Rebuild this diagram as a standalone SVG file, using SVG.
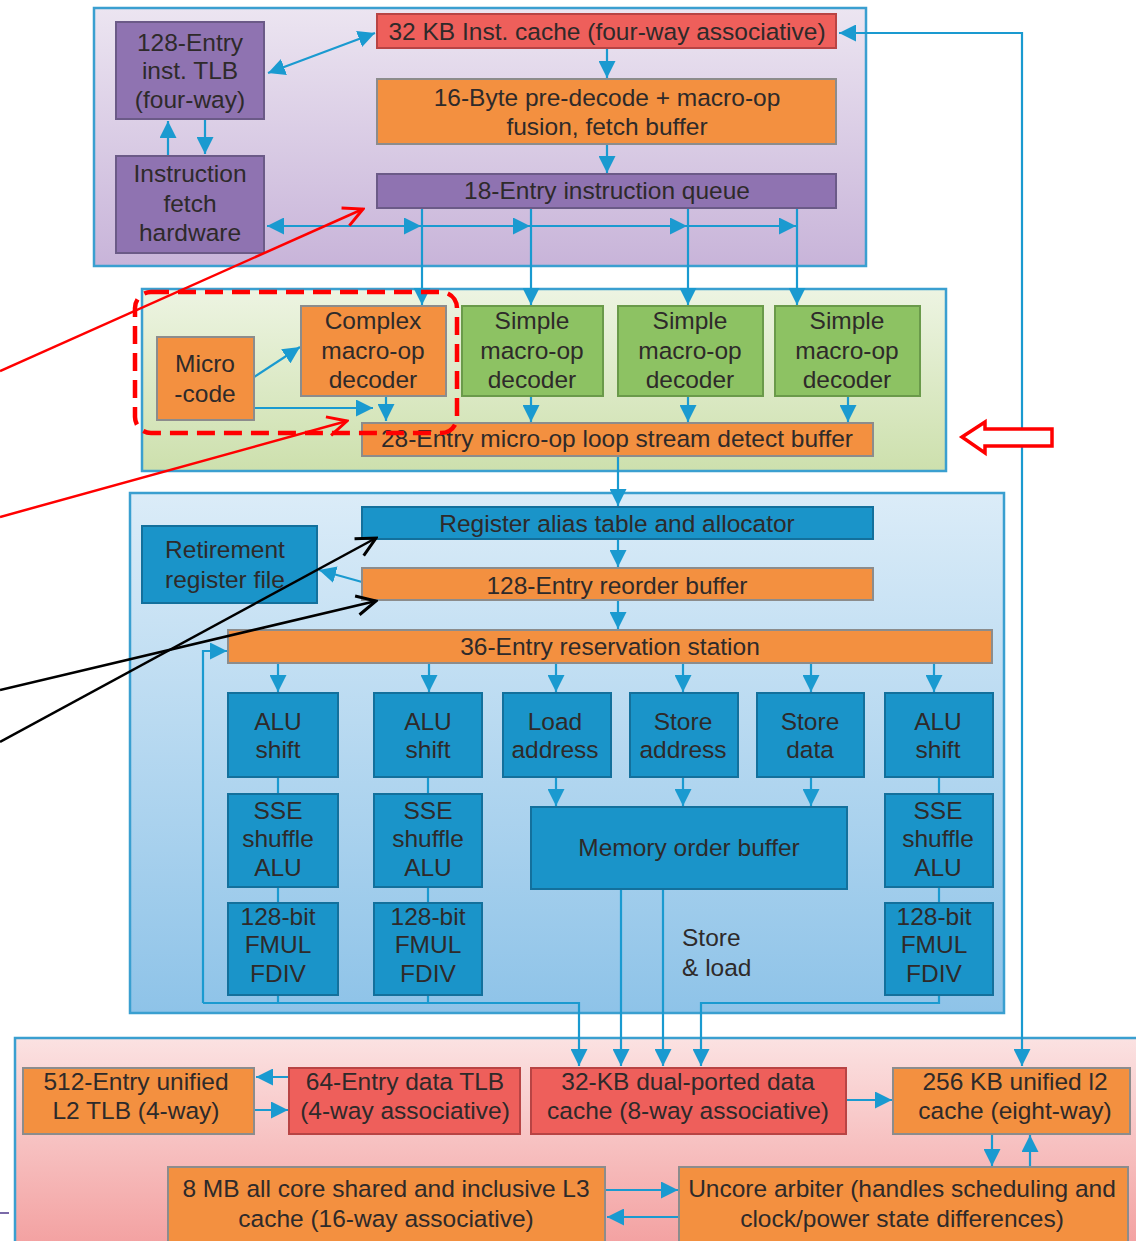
<svg xmlns="http://www.w3.org/2000/svg" width="1136" height="1241" viewBox="0 0 1136 1241">
<defs>
<linearGradient id="gPurple" x1="0" y1="0" x2="0" y2="1"><stop offset="0" stop-color="#ece5f1"/><stop offset="1" stop-color="#c8b4d9"/></linearGradient>
<linearGradient id="gGreen" x1="0" y1="0" x2="0" y2="1"><stop offset="0" stop-color="#edf4e2"/><stop offset="1" stop-color="#cde0ad"/></linearGradient>
<linearGradient id="gBlue" x1="0" y1="0" x2="0" y2="1"><stop offset="0" stop-color="#dbecf8"/><stop offset="1" stop-color="#8ec3e8"/></linearGradient>
<linearGradient id="gPink" x1="0" y1="0" x2="0" y2="1"><stop offset="0" stop-color="#fbe2e2"/><stop offset="1" stop-color="#f3a0a0"/></linearGradient>
<marker id="a" viewBox="0 0 14 14" refX="14" refY="7" markerWidth="17" markerHeight="17" orient="auto-start-reverse" markerUnits="userSpaceOnUse"><path d="M0,0 L14,7 L0,14 z" fill="#1a9ad0"/></marker>
<marker id="rv" viewBox="0 0 20 20" refX="18" refY="10" markerWidth="24" markerHeight="24" orient="auto" markerUnits="userSpaceOnUse"><path d="M2,2 L18,10 L2,18" fill="none" stroke="#ff0000" stroke-width="2.5"/></marker>
<marker id="kv" viewBox="0 0 20 20" refX="18" refY="10" markerWidth="24" markerHeight="24" orient="auto" markerUnits="userSpaceOnUse"><path d="M2,2 L18,10 L2,18" fill="none" stroke="#000" stroke-width="2.5"/></marker>
</defs>
<style>
.panel{stroke:#3a9fd0;stroke-width:2.5}
.pu{fill:#8f73b1;stroke:#6b5a87;stroke-width:2}
.rd{fill:#ee5f5b;stroke:#b84444;stroke-width:2}
.or{fill:#f39040;stroke:#8c8c8c;stroke-width:2}
.gr{fill:#8dc263;stroke:#6a9a4a;stroke-width:2}
.bl{fill:#1a94c9;stroke:#13709c;stroke-width:2}
text{font-family:"Liberation Sans",Arial,sans-serif;font-size:24.5px;fill:#2e2a2a;text-anchor:middle}
.c line,.c path{stroke:#1a9ad0;stroke-width:2.2;fill:none}
.ar{marker-end:url(#a)}
.ab{marker-start:url(#a);marker-end:url(#a)}
</style>
<g id="panels">
<rect id="panel-frontend" class="panel" x="94" y="8" width="772" height="258" fill="url(#gPurple)"/>
<rect id="panel-decode" class="panel" x="142" y="289" width="804" height="182" fill="url(#gGreen)"/>
<rect id="panel-exec" class="panel" x="130" y="493" width="874" height="520" fill="url(#gBlue)"/>
<rect id="panel-mem" class="panel" x="15" y="1038" width="1125" height="210" fill="url(#gPink)"/>
</g>
<g id="connectors" class="c">
<line class="ab" x1="268" y1="73" x2="375" y2="33"/>
<line class="ar" x1="168" y1="156" x2="168" y2="121"/>
<line class="ar" x1="205" y1="119" x2="205" y2="154"/>
<line class="ar" x1="607" y1="48" x2="607" y2="78"/>
<line class="ar" x1="607" y1="144" x2="607" y2="173"/>
<line class="ab" x1="267" y1="226" x2="421" y2="226"/>
<line class="ar" x1="422" y1="226" x2="530" y2="226"/>
<line class="ar" x1="531" y1="226" x2="687" y2="226"/>
<line class="ar" x1="688" y1="226" x2="796" y2="226"/>
<line class="ar" x1="422" y1="208" x2="422" y2="305"/>
<line class="ar" x1="531" y1="208" x2="531" y2="305"/>
<line class="ar" x1="688" y1="208" x2="688" y2="305"/>
<line class="ar" x1="797" y1="208" x2="797" y2="305"/>
<line class="ar" x1="254" y1="377" x2="300" y2="347"/>
<line class="ar" x1="254" y1="408" x2="373" y2="408"/>
<line class="ar" x1="386" y1="395" x2="386" y2="421"/>
<line class="ar" x1="531" y1="395" x2="531" y2="422"/>
<line class="ar" x1="688" y1="395" x2="688" y2="422"/>
<line class="ar" x1="848" y1="395" x2="848" y2="422"/>
<line class="ar" x1="618" y1="456" x2="618" y2="506"/>
<line class="ar" x1="618" y1="539" x2="618" y2="567"/>
<line class="ar" x1="618" y1="600" x2="618" y2="629"/>
<line class="ar" x1="362" y1="582" x2="319" y2="570"/>
<line class="ar" x1="278" y1="663" x2="278" y2="692"/>
<line class="ar" x1="429" y1="663" x2="429" y2="692"/>
<line class="ar" x1="556" y1="663" x2="556" y2="692"/>
<line class="ar" x1="683" y1="663" x2="683" y2="692"/>
<line class="ar" x1="811" y1="663" x2="811" y2="692"/>
<line class="ar" x1="934" y1="663" x2="934" y2="692"/>
<line x1="278" y1="777" x2="278" y2="794"/>
<line x1="278" y1="887" x2="278" y2="903"/>
<line x1="428" y1="777" x2="428" y2="794"/>
<line x1="428" y1="887" x2="428" y2="903"/>
<line x1="939" y1="777" x2="939" y2="794"/>
<line x1="939" y1="887" x2="939" y2="903"/>
<line class="ar" x1="556" y1="777" x2="556" y2="806"/>
<line class="ar" x1="683" y1="777" x2="683" y2="806"/>
<line class="ar" x1="811" y1="777" x2="811" y2="806"/>
<line x1="278" y1="995" x2="278" y2="1003"/>
<line x1="428" y1="995" x2="428" y2="1003"/>
<path class="ar" d="M203,1003 L203,651 L227,651"/>
<path class="ar" d="M203,1003 L579,1003 L579,1066"/>
<line class="ar" x1="621" y1="889" x2="621" y2="1066"/>
<line class="ar" x1="663" y1="889" x2="663" y2="1066"/>
<path class="ar" d="M939,995 L939,1003 L701,1003 L701,1066"/>
<path class="ab" d="M1022,1066 L1022,33 L839,33"/>
<line class="ar" x1="289" y1="1077" x2="256" y2="1077"/>
<line class="ar" x1="254" y1="1110" x2="288" y2="1110"/>
<line class="ar" x1="846" y1="1100" x2="892" y2="1100"/>
<line class="ar" x1="992" y1="1134" x2="992" y2="1166"/>
<line class="ar" x1="1030" y1="1167" x2="1030" y2="1135"/>
<line class="ar" x1="605" y1="1190" x2="678" y2="1190"/>
<line class="ar" x1="679" y1="1217" x2="607" y2="1217"/>
</g>
<g id="n-itlb"><rect class="pu" x="116" y="22" width="148" height="97"/><text x="190" y="51">128-Entry</text><text x="190" y="79">inst. TLB</text><text x="190" y="108">(four-way)</text></g>
<g id="n-ifetch"><rect class="pu" x="116" y="156" width="148" height="97"/><text x="190" y="182">Instruction</text><text x="190" y="212">fetch</text><text x="190" y="241">hardware</text></g>
<g id="n-icache"><rect class="rd" x="377" y="14" width="459" height="34"/><text x="607" y="40">32 KB Inst. cache (four-way associative)</text></g>
<g id="n-predecode"><rect class="or" x="377" y="79" width="459" height="65"/><text x="607" y="106">16-Byte pre-decode + macro-op</text><text x="607" y="135">fusion, fetch buffer</text></g>
<g id="n-iq"><rect class="pu" x="377" y="174" width="459" height="34"/><text x="607" y="199">18-Entry instruction queue</text></g>
<g id="n-microcode"><rect class="or" x="157" y="337" width="97" height="83"/><text x="205" y="372">Micro</text><text x="205" y="402">-code</text></g>
<g id="n-complex"><rect class="or" x="301" y="306" width="145" height="90"/><text x="373" y="329">Complex</text><text x="373" y="359">macro-op</text><text x="373" y="388">decoder</text></g>
<g id="n-simple1"><rect class="gr" x="462" y="306" width="141" height="90"/><text x="532" y="329">Simple</text><text x="532" y="359">macro-op</text><text x="532" y="388">decoder</text></g>
<g id="n-simple2"><rect class="gr" x="618" y="306" width="145" height="90"/><text x="690" y="329">Simple</text><text x="690" y="359">macro-op</text><text x="690" y="388">decoder</text></g>
<g id="n-simple3"><rect class="gr" x="775" y="306" width="145" height="90"/><text x="847" y="329">Simple</text><text x="847" y="359">macro-op</text><text x="847" y="388">decoder</text></g>
<g id="n-lsd"><rect class="or" x="362" y="423" width="511" height="33"/><text x="617" y="447">28-Entry micro-op loop stream detect buffer</text></g>
<g id="n-rat"><rect class="bl" x="362" y="507" width="511" height="32"/><text x="617" y="532">Register alias table and allocator</text></g>
<g id="n-rrf"><rect class="bl" x="142" y="526" width="175" height="77"/><text x="225" y="558">Retirement</text><text x="225" y="588">register file</text></g>
<g id="n-rob"><rect class="or" x="362" y="568" width="511" height="32"/><text x="617" y="594">128-Entry reorder buffer</text></g>
<g id="n-rs"><rect class="or" x="228" y="630" width="764" height="33"/><text x="610" y="655">36-Entry reservation station</text></g>
<g id="n-alu1"><rect class="bl" x="228" y="693" width="110" height="84"/><text x="278" y="730">ALU</text><text x="278" y="758">shift</text></g>
<g id="n-sse1"><rect class="bl" x="228" y="794" width="110" height="93"/><text x="278" y="819">SSE</text><text x="278" y="847">shuffle</text><text x="278" y="876">ALU</text></g>
<g id="n-fp1"><rect class="bl" x="228" y="903" width="110" height="92"/><text x="278" y="925">128-bit</text><text x="278" y="953">FMUL</text><text x="278" y="982">FDIV</text></g>
<g id="n-alu2"><rect class="bl" x="374" y="693" width="108" height="84"/><text x="428" y="730">ALU</text><text x="428" y="758">shift</text></g>
<g id="n-sse2"><rect class="bl" x="374" y="794" width="108" height="93"/><text x="428" y="819">SSE</text><text x="428" y="847">shuffle</text><text x="428" y="876">ALU</text></g>
<g id="n-fp2"><rect class="bl" x="374" y="903" width="108" height="92"/><text x="428" y="925">128-bit</text><text x="428" y="953">FMUL</text><text x="428" y="982">FDIV</text></g>
<g id="n-load"><rect class="bl" x="503" y="693" width="108" height="84"/><text x="555" y="730">Load</text><text x="555" y="758">address</text></g>
<g id="n-staddr"><rect class="bl" x="630" y="693" width="108" height="84"/><text x="683" y="730">Store</text><text x="683" y="758">address</text></g>
<g id="n-stdata"><rect class="bl" x="757" y="693" width="107" height="84"/><text x="810" y="730">Store</text><text x="810" y="758">data</text></g>
<g id="n-alu3"><rect class="bl" x="885" y="693" width="108" height="84"/><text x="938" y="730">ALU</text><text x="938" y="758">shift</text></g>
<g id="n-sse3"><rect class="bl" x="885" y="794" width="108" height="93"/><text x="938" y="819">SSE</text><text x="938" y="847">shuffle</text><text x="938" y="876">ALU</text></g>
<g id="n-fp3"><rect class="bl" x="885" y="903" width="108" height="92"/><text x="934" y="925">128-bit</text><text x="934" y="953">FMUL</text><text x="934" y="982">FDIV</text></g>
<g id="n-mob"><rect class="bl" x="531" y="807" width="316" height="82"/><text x="689" y="856">Memory order buffer</text></g>
<g id="l-storeload"><text x="682" y="946" style="text-anchor:start">Store</text><text x="682" y="976" style="text-anchor:start">&amp; load</text></g>
<g id="n-l2tlb"><rect class="or" x="23" y="1068" width="231" height="66"/><text x="136" y="1090">512-Entry unified</text><text x="136" y="1119">L2 TLB (4-way)</text></g>
<g id="n-dtlb"><rect class="rd" x="289" y="1068" width="231" height="66"/><text x="405" y="1090">64-Entry data TLB</text><text x="405" y="1119">(4-way associative)</text></g>
<g id="n-dcache"><rect class="rd" x="531" y="1068" width="315" height="66"/><text x="688" y="1090">32-KB dual-ported data</text><text x="688" y="1119">cache (8-way associative)</text></g>
<g id="n-l2"><rect class="or" x="893" y="1068" width="237" height="66"/><text x="1015" y="1090">256 KB unified l2</text><text x="1015" y="1119">cache (eight-way)</text></g>
<g id="n-l3"><rect class="or" x="168" y="1167" width="437" height="76"/><text x="386" y="1197">8 MB all core shared and inclusive L3</text><text x="386" y="1227">cache (16-way associative)</text></g>
<g id="n-uncore"><rect class="or" x="679" y="1167" width="449" height="76"/><text x="902" y="1197">Uncore arbiter (handles scheduling and</text><text x="902" y="1227">clock/power state differences)</text></g>
<g id="annotations">
<rect x="135" y="292" width="322" height="141" rx="16" fill="none" stroke="#ff0000" stroke-width="4.5" stroke-dasharray="18 9"/>
<line x1="0" y1="371" x2="363" y2="209" stroke="#ff0000" stroke-width="2.5" marker-end="url(#rv)"/>
<line x1="0" y1="517" x2="347" y2="421" stroke="#ff0000" stroke-width="2.5" marker-end="url(#rv)"/>
<path d="M962,437 L985,422 L985,429 L1052,429 L1052,446 L985,446 L985,453 Z" fill="#fff" stroke="#ff0000" stroke-width="3.5" stroke-linejoin="miter"/>
<line x1="0" y1="690" x2="376" y2="601" stroke="#000" stroke-width="2.5" marker-end="url(#kv)"/>
<line x1="0" y1="742" x2="376" y2="538" stroke="#000" stroke-width="2.5" marker-end="url(#kv)"/>
<line x1="0" y1="1213" x2="9" y2="1213" stroke="#7a6aa8" stroke-width="2"/>
</g>
</svg>
